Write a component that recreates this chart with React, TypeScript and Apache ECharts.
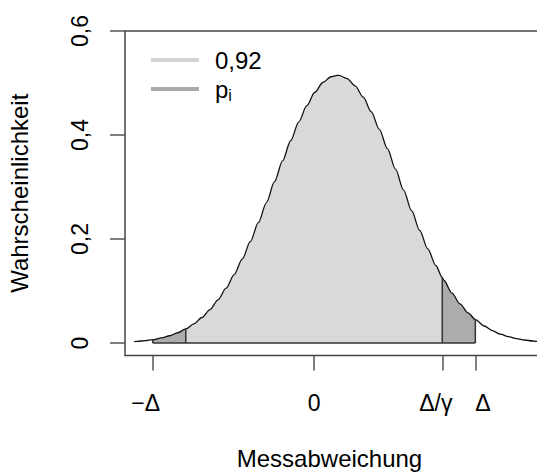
import React, { useEffect, useRef } from "react";
import * as echarts from "echarts";

// Density curve (x in units where Δ = 2)
const curveX = [
  -2.23, -2.19, -2.09, -2.0, -1.89, -1.79, -1.69, -1.59, -1.49, -1.39, -1.29, -1.19, -1.09, -0.99,
  -0.89, -0.79, -0.69, -0.59, -0.49, -0.39, -0.29, -0.19, -0.09, 0.01, 0.11, 0.21, 0.29, 0.31,
  0.41, 0.51, 0.61, 0.71, 0.81, 0.91, 1.01, 1.11, 1.21, 1.31, 1.41, 1.51, 1.59, 1.61, 1.71, 1.81,
  1.91, 2.0, 2.11, 2.21, 2.31, 2.41, 2.51, 2.61, 2.71, 2.81, 2.91, 3.01,
];
const curveY = [
  0.0026, 0.0031, 0.0046, 0.0065, 0.0099, 0.014, 0.0197, 0.0271, 0.0368, 0.0491, 0.0644, 0.0831,
  0.1054, 0.1316, 0.1615, 0.1949, 0.2314, 0.2701, 0.3102, 0.3503, 0.389, 0.4249, 0.4564, 0.4822,
  0.501, 0.512, 0.5147, 0.5145, 0.5086, 0.4944, 0.4727, 0.4444, 0.4109, 0.3737, 0.3343, 0.294,
  0.2544, 0.2165, 0.1811, 0.1491, 0.126, 0.1207, 0.0961, 0.0752, 0.0579, 0.0451, 0.0327, 0.0239,
  0.0172, 0.0122, 0.0085, 0.0058, 0.0039, 0.0026, 0.0017, 0.0011,
];

// Interval limits: −Δ, −Δ/γ, Δ/γ, Δ and the curve height there
const boundaryX = [-2.0, -1.59, 1.59, 2.0];
const boundaryY = [0.0065, 0.0271, 0.126, 0.0451];

// Axis ticks and labels
const xTickValues = [-2.0, 0, 1.59, 2.0];
const xTickLabels = ["−Δ", "0", "Δ/γ", "Δ"];
const yTickValues = [0, 0.2, 0.4, 0.6];
const yTickLabels = ["0", "0,2", "0,4", "0,6"];

const legendNames = ["0,92", "p_i"];

const FONT = "Liberation Sans, Arial, sans-serif";

function segment(lo: number, hi: number): number[][] {
  const pts: number[][] = [];
  curveX.forEach((x, i) => {
    if (x >= lo - 1e-9 && x <= hi + 1e-9) pts.push([x, curveY[i]]);
  });
  return pts;
}

export default function App() {
  const ref = useRef<HTMLDivElement>(null);
  useEffect(() => {
    if (!ref.current) return;
    const chart = echarts.init(ref.current, undefined, { renderer: "svg" });

    const lightData = segment(boundaryX[1], boundaryX[2]);
    const darkLeft = segment(boundaryX[0], boundaryX[1]);
    const darkRight = segment(boundaryX[2], boundaryX[3]);
    const curveData = curveX.map((x, i) => [x, curveY[i]]);

    const verticals = boundaryX.map((x, i) => ({
      name: "border" + i,
      type: "line",
      data: [
        [x, 0],
        [x, boundaryY[i]],
      ],
      showSymbol: false,
      silent: true,
      lineStyle: { color: "#333", width: 1.5 },
      z: 4,
    }));

    const findIdx = (v: number, arr: number[]) => {
      let best = 0;
      arr.forEach((a, i) => {
        if (Math.abs(a - v) < Math.abs(arr[best] - v)) best = i;
      });
      return best;
    };

    const option: any = {
      animation: false,
      textStyle: { fontFamily: FONT },
      grid: {
        left: 125,
        top: 31,
        width: 431,
        height: 324.5,
        outerBoundsMode: "none",
        containLabel: false,
        show: true,
        borderColor: "#444",
        borderWidth: 1.5,
      },
      legend: {
        orient: "vertical",
        left: 146,
        top: 42,
        icon: "rect",
        itemWidth: 48,
        itemHeight: 4,
        itemGap: 3,
        selectedMode: false,
        data: [
          { name: legendNames[0], itemStyle: { color: "#d3d3d3" } },
          { name: legendNames[1], itemStyle: { color: "#aaaaaa" } },
        ],
        formatter: (name: string) =>
          name === "p_i" ? "{p|p}{s|i}" : "{n|" + name + "}",
        textStyle: {
          fontFamily: FONT,
          fontSize: 24,
          lineHeight: 26,
          color: "#000",
          padding: [0, 0, 0, 11],
          rich: {
            n: { fontSize: 24, lineHeight: 26, fontFamily: FONT, color: "#000" },
            p: { fontSize: 24, lineHeight: 26, fontFamily: FONT, color: "#000" },
            s: { fontSize: 16, fontFamily: FONT, color: "#000", padding: [12, 0, 0, 0] },
          },
        },
      },
      xAxis: {
        type: "value",
        min: -2.3435,
        max: 3.0,
        axisLine: { show: false, onZero: false },
        splitLine: { show: false },
        axisTick: {
          show: true,
          customValues: xTickValues,
          length: 15,
          lineStyle: { color: "#555", width: 1.5 },
        },
        axisLabel: {
          customValues: xTickValues,
          margin: 36,
          fontSize: 23,
          color: "#000",
          fontFamily: FONT,
          formatter: (v: number) => {
            const i = findIdx(v, xTickValues);
            return "{k" + i + "|" + xTickLabels[i] + "}";
          },
          rich: {
            k0: { fontSize: 23, fontFamily: FONT, color: "#000", padding: [0, 14, 0, 0] },
            k1: { fontSize: 23, fontFamily: FONT, color: "#000" },
            k2: { fontSize: 23, fontFamily: FONT, color: "#000", padding: [0, 13, 0, 0] },
            k3: { fontSize: 23, fontFamily: FONT, color: "#000", padding: [0, 0, 0, 15] },
          },
        },
        name: "Messabweichung",
        nameLocation: "middle",
        nameGap: 91,
        nameTextStyle: {
          fontSize: 24,
          color: "#000",
          fontFamily: FONT,
          padding: [0, 22, 0, 0],
        },
      },
      yAxis: {
        type: "value",
        min: -0.024,
        max: 0.6,
        axisLine: { show: false, onZero: false },
        splitLine: { show: false },
        axisTick: {
          show: true,
          customValues: yTickValues,
          length: 15,
          lineStyle: { color: "#555", width: 1.5 },
        },
        axisLabel: {
          customValues: yTickValues,
          rotate: 90,
          margin: 34,
          fontSize: 23,
          color: "#000",
          fontFamily: FONT,
          formatter: (v: number) => yTickLabels[findIdx(v, yTickValues)],
        },
        name: "Wahrscheinlichkeit",
        nameLocation: "middle",
        nameGap: 94,
        nameTextStyle: { fontSize: 24, color: "#000", fontFamily: FONT },
      },
      series: [
        {
          name: legendNames[0],
          type: "line",
          data: lightData,
          showSymbol: false,
          silent: true,
          smooth: 0.3,
          smoothMonotone: "x",
          itemStyle: { color: "#d3d3d3" },
          lineStyle: { width: 0 },
          areaStyle: { color: "#d9d9d9", opacity: 1 },
          z: 1,
        },
        {
          name: legendNames[1],
          type: "line",
          data: darkLeft,
          showSymbol: false,
          silent: true,
          smooth: 0.3,
          smoothMonotone: "x",
          itemStyle: { color: "#aaaaaa" },
          lineStyle: { width: 0 },
          areaStyle: { color: "#acacac", opacity: 1 },
          z: 1,
        },
        {
          name: legendNames[1],
          type: "line",
          data: darkRight,
          showSymbol: false,
          silent: true,
          smooth: 0.3,
          smoothMonotone: "x",
          itemStyle: { color: "#aaaaaa" },
          lineStyle: { width: 0 },
          areaStyle: { color: "#acacac", opacity: 1 },
          z: 1,
        },
        {
          name: "curve",
          type: "line",
          data: curveData,
          showSymbol: false,
          silent: true,
          smooth: 0.3,
          smoothMonotone: "x",
          lineStyle: { color: "#111", width: 1.3 },
          z: 3,
        },
        {
          name: "baseline",
          type: "line",
          data: [
            [boundaryX[0], 0],
            [boundaryX[3], 0],
          ],
          showSymbol: false,
          silent: true,
          lineStyle: { color: "#333", width: 1.5 },
          z: 4,
        },
        ...verticals,
      ],
    };

    chart.setOption(option);
    return () => chart.dispose();
  }, []);

  return (
    <div
      ref={ref}
      style={{
        position: "absolute",
        left: 0,
        top: 0,
        width: 537,
        height: 474,
        overflow: "hidden",
        background: "#fff",
      }}
    />
  );
}
